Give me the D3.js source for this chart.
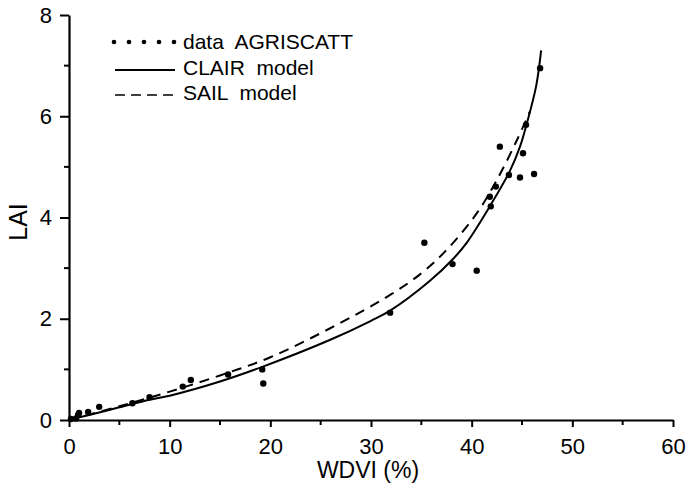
<!DOCTYPE html>
<html>
<head>
<meta charset="utf-8">
<script src="https://cdn.jsdelivr.net/npm/d3@7"></script>
<style>
  body { margin: 0; background: #fff; }
  svg text { font-family: "Liberation Sans", Arial, sans-serif; fill: #000; }
</style>
</head>
<body>
<div id="chart"></div>
<script>
// measured data (AGRISCATT)
var dataWdvi = [0.2, 0.7, 0.9, 1.0, 1.9, 3.0, 6.3, 8.0, 11.3, 12.1, 15.8, 19.2, 19.3, 31.9, 35.3, 38.1, 40.5, 41.8, 41.9, 42.4, 42.8, 43.7, 44.8, 45.1, 45.4, 46.2, 46.8];
var dataLai  = [0.02, 0.03, 0.1, 0.14, 0.16, 0.26, 0.33, 0.45, 0.66, 0.79, 0.9, 1.0, 0.72, 2.12, 3.5, 3.08, 2.95, 4.41, 4.22, 4.61, 5.40, 4.84, 4.79, 5.27, 5.83, 4.86, 6.95];

// CLAIR model curve
var clairWdvi = [0, 2, 5, 8, 10, 15, 19.2, 25.9, 30, 31.9, 35.8, 38.1, 39.5, 41.8, 43.8, 44.8, 45.4, 46.4, 46.9];
var clairLai  = [0, 0.1, 0.25, 0.4, 0.48, 0.76, 1.05, 1.58, 1.96, 2.16, 2.74, 3.17, 3.50, 4.22, 4.92, 5.4, 5.8, 6.59, 7.3];

// SAIL model curve
var sailWdvi = [0, 5, 10, 15, 20, 26.6, 31.9, 35.2, 37.7, 40.5, 42.5, 44.5, 45.8];
var sailLai  = [0, 0.27, 0.56, 0.88, 1.24, 1.88, 2.47, 2.93, 3.40, 4.08, 4.74, 5.53, 6.1];

var xTicks = [0, 10, 20, 30, 40, 50, 60];
var yTicks = [0, 2, 4, 6, 8];
var xMinor = [5, 15, 25, 35, 45, 55];
var yMinor = [1, 3, 5, 7];

var legendLabels = ["data  AGRISCATT", "CLAIR  model", "SAIL  model"];

var W = 687, H = 487;
var margin = {left: 69, right: 14, top: 15, bottom: 67};

var svg = d3.select("#chart").append("svg")
    .attr("width", W)
    .attr("height", H);

var x = d3.scaleLinear().domain([0, 60]).range([margin.left, W - margin.right]);
var y = d3.scaleLinear().domain([0, 8]).range([H - margin.bottom, margin.top]);

// axes
var xAxis = svg.append("g")
    .attr("transform", `translate(0,${y(0)})`)
    .call(d3.axisBottom(x).tickValues(xTicks).tickSize(7).tickPadding(11).tickSizeOuter(0));
var yAxis = svg.append("g")
    .attr("transform", `translate(${x(0)},0)`)
    .call(d3.axisLeft(y).tickValues(yTicks).tickSize(9).tickPadding(8).tickSizeOuter(0));

[xAxis, yAxis].forEach(function (g) {
    g.select(".domain").attr("stroke", "#000").attr("stroke-width", 2.2);
    g.selectAll(".tick line").attr("stroke", "#000").attr("stroke-width", 2);
    g.selectAll(".tick text").attr("font-size", 22).attr("fill", "#000")
        .style("font-family", "'Liberation Sans', Arial, sans-serif");
});

// minor ticks
xAxis.selectAll(".minor").data(xMinor).enter().append("line")
    .attr("x1", function (d) { return x(d); })
    .attr("x2", function (d) { return x(d); })
    .attr("y1", 0).attr("y2", 5)
    .attr("stroke", "#000").attr("stroke-width", 2);
yAxis.selectAll(".minor").data(yMinor).enter().append("line")
    .attr("y1", function (d) { return y(d); })
    .attr("y2", function (d) { return y(d); })
    .attr("x1", 0).attr("x2", -5)
    .attr("stroke", "#000").attr("stroke-width", 2);

// axis titles
svg.append("text")
    .attr("x", 368).attr("y", 478)
    .attr("text-anchor", "middle")
    .attr("font-size", 23)
    .text("WDVI  (%)");
svg.append("text")
    .attr("transform", "translate(27,222) rotate(-90)")
    .attr("text-anchor", "middle")
    .attr("font-size", 25)
    .text("LAI");

// model curves
var line = d3.line()
    .x(function (d) { return x(d[0]); })
    .y(function (d) { return y(d[1]); })
    .curve(d3.curveCatmullRom.alpha(0.5));

svg.append("path")
    .datum(d3.zip(clairWdvi, clairLai))
    .attr("d", line)
    .attr("fill", "none")
    .attr("stroke", "#000")
    .attr("stroke-width", 2);

svg.append("path")
    .datum(d3.zip(sailWdvi, sailLai))
    .attr("d", line)
    .attr("fill", "none")
    .attr("stroke", "#000")
    .attr("stroke-width", 2)
    .attr("stroke-dasharray", "10,7");

// data points
svg.selectAll(".pt")
    .data(d3.zip(dataWdvi, dataLai))
    .enter().append("circle")
    .attr("class", "pt")
    .attr("cx", function (d) { return x(d[0]); })
    .attr("cy", function (d) { return y(d[1]); })
    .attr("r", 3.2)
    .attr("fill", "#000");

// legend
var lg = svg.append("g");
lg.selectAll(".ldot").data(d3.range(5)).enter().append("circle")
    .attr("cx", function (d) { return 114 + d * 15; })
    .attr("cy", 42)
    .attr("r", 2.3)
    .attr("fill", "#000");
lg.append("line")
    .attr("x1", 115).attr("x2", 175).attr("y1", 70).attr("y2", 70)
    .attr("stroke", "#000").attr("stroke-width", 2);
lg.append("line")
    .attr("x1", 115).attr("x2", 175).attr("y1", 95).attr("y2", 95)
    .attr("stroke", "#000").attr("stroke-width", 1.6)
    .attr("stroke-dasharray", "10,6");
lg.selectAll(".ltxt").data(legendLabels).enter().append("text")
    .attr("x", 183)
    .attr("y", function (d, i) { return 49 + i * 25.5; })
    .attr("font-size", 21)
    .style("white-space", "pre")
    .text(function (d) { return d; });
</script>
</body>
</html>
